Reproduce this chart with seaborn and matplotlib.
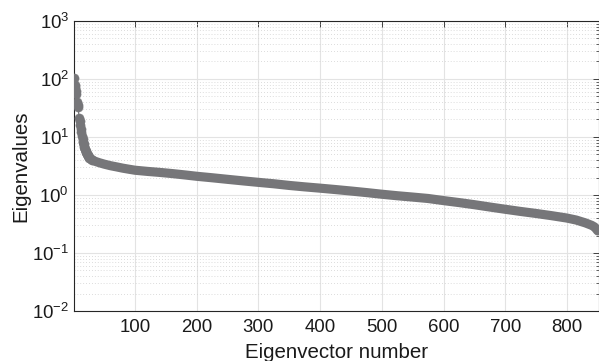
import numpy as np
import pandas as pd
import matplotlib
matplotlib.use("Agg")
import matplotlib.pyplot as plt
import seaborn as sns
from matplotlib.ticker import LogLocator, FixedLocator, NullFormatter

# Eigenvalues at selected eigenvector numbers
idx = [1, 2, 3, 4, 5, 6, 7, 8, 9, 10, 11, 12, 13, 14, 15, 16, 17, 18, 19, 20,
       21, 22, 23, 24, 25, 26, 28, 30, 33, 37, 42, 50, 60, 70, 80, 90, 100,
       120, 140, 160, 180, 200, 225, 250, 275, 300, 325, 350, 375, 400, 425,
       450, 475, 500, 525, 550, 575, 600, 625, 650, 675, 700, 725, 750, 775,
       800, 815, 830, 840, 845, 850]
eig = [105, 80, 74, 62, 54, 40, 36, 33, 21, 19, 16, 13.5, 12, 10.5, 9.3, 8.3,
       7.5, 6.8, 6.2, 5.8, 5.4, 5.1, 4.9, 4.7, 4.55, 4.4, 4.2, 4.05, 3.9, 3.75,
       3.6, 3.4, 3.2, 3.05, 2.9, 2.78, 2.67, 2.55, 2.45, 2.34, 2.22, 2.10, 1.98,
       1.86, 1.75, 1.65, 1.56, 1.46, 1.38, 1.31, 1.24, 1.17, 1.10, 1.03, 0.97,
       0.92, 0.87, 0.80, 0.74, 0.68, 0.62, 0.567, 0.52, 0.48, 0.44, 0.40, 0.37,
       0.33, 0.30, 0.28, 0.24]
xticks = [100, 200, 300, 400, 500, 600, 700, 800]

df = pd.DataFrame({"n": idx, "ev": eig})
smooth = df[df["n"] >= 16]
head = df[df["n"] <= 30]

sns.set_theme(style="white")
plt.rcParams["font.family"] = ["Liberation Sans", "DejaVu Sans"]
plt.rcParams["mathtext.fontset"] = "custom"
plt.rcParams["mathtext.rm"] = "Liberation Sans"
plt.rcParams["axes.unicode_minus"] = False

fig = plt.figure(figsize=(5.99, 3.61), dpi=100)
ax = fig.add_axes([0.1235, 0.1385, 0.8765, 0.8035])

col = "#767679"
sns.lineplot(data=smooth, x="n", y="ev", ax=ax, color=col, lw=6.6,
             solid_capstyle="round", solid_joinstyle="round", zorder=3)
sns.lineplot(data=df, x="n", y="ev", ax=ax, color=col, lw=0.8, zorder=3)
sns.scatterplot(data=head, x="n", y="ev", ax=ax, color=col, s=44,
                edgecolor=col, linewidth=0.3, zorder=4)

ax.set_yscale("log")
ax.set_ylim(1e-2, 1e3)
ax.set_xlim(1, 852)
ax.xaxis.set_major_locator(FixedLocator(xticks))
ax.yaxis.set_major_locator(LogLocator(base=10, numticks=10))
ax.yaxis.set_minor_locator(LogLocator(base=10, subs=np.arange(2, 10), numticks=20))
ax.yaxis.set_minor_formatter(NullFormatter())

ax.grid(True, which="major", axis="both", color="#e3e3e3", lw=0.8, ls="-")
ax.grid(True, which="minor", axis="y", color="#d0d0d0", lw=0.6, ls=(0, (1, 2.5)))
ax.set_axisbelow(True)

edge = "#262626"
for s in ax.spines.values():
    s.set_color(edge)
    s.set_linewidth(0.8)
ax.tick_params(axis="both", which="both", direction="in", top=True, right=True,
               colors=edge, labelcolor="#1a1a1a", labelsize=13.4)
ax.tick_params(which="major", length=4, width=0.6)
ax.tick_params(which="minor", length=2.2, width=0.5)
ax.tick_params(axis="x", which="minor", bottom=False, top=False)
ax.tick_params(axis="x", which="major", pad=6)

ax.set_xlabel("Eigenvector number", fontsize=14.8, color="#1a1a1a", labelpad=5)
ax.set_ylabel("Eigenvalues", fontsize=14.8, color="#1a1a1a", labelpad=1)

fig.savefig("out.png", dpi=100)
